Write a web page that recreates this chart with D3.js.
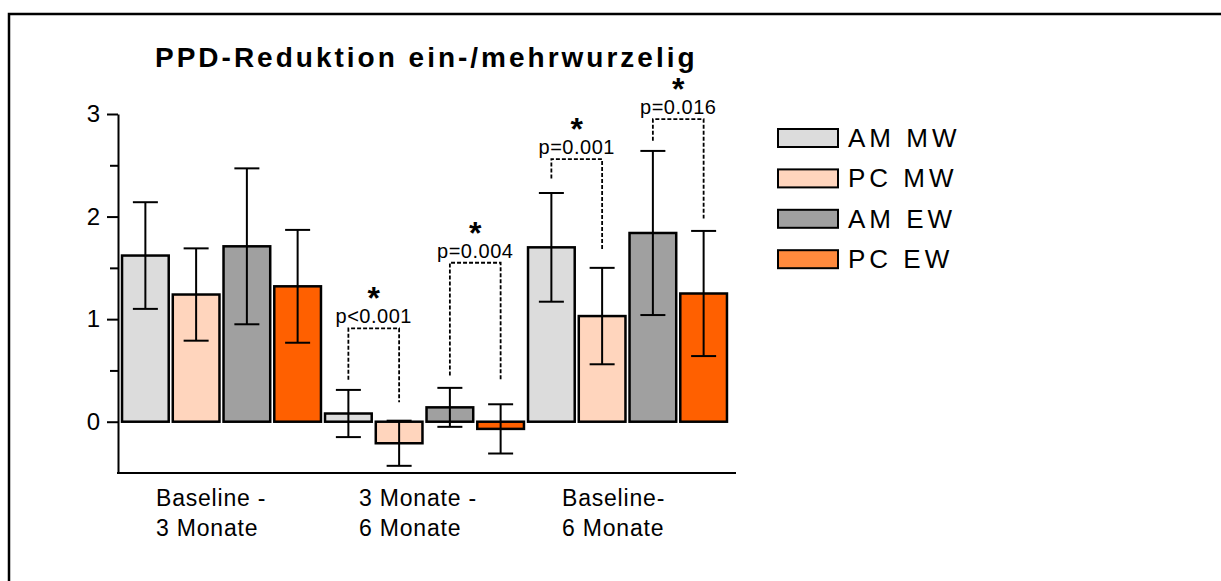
<!DOCTYPE html>
<html>
<head>
<meta charset="utf-8">
<script src="https://cdn.jsdelivr.net/npm/d3@7"></script>
<style>
    html, body { margin: 0; padding: 0; background: #fff; }
    svg { display: block; font-family: "Liberation Sans", Arial, sans-serif; }
</style>
</head>
<body>
<svg id="chart" width="1221" height="581"></svg>
<script>
// data
const groupLines = [["Baseline -", "3 Monate"], ["3 Monate -", "6 Monate"], ["Baseline-", "6 Monate"]];
const seriesNames = ["AM MW", "PC MW", "AM EW", "PC EW"];
const seriesColors = ["#dcdcdc", "#ffd5bd", "#a0a0a0", "#ff6000"];
const legendColors = ["#dcdcdc", "#ffd5bd", "#a0a0a0", "#ff8a3d"];
const means = [
    [1.62, 1.24, 1.71, 1.32],
    [0.08, -0.21, 0.14, -0.07],
    [1.70, 1.03, 1.84, 1.25]
];
const errors = [
    [0.52, 0.45, 0.76, 0.55],
    [0.23, 0.22, 0.19, 0.24],
    [0.53, 0.47, 0.80, 0.61]
];
const majorTicks = [0, 1, 2, 3];
const minorTicks = [0.5, 1.5, 2.5];

// significance brackets
const sigGroup = [1, 1, 2, 2];
const sigPairs = [[0, 1], [2, 3], [0, 1], [2, 3]];
const sigLabels = ["p<0.001", "p=0.004", "p=0.001", "p=0.016"];
const sigTop = [0.91, 1.55, 2.56, 2.95];
const sigLeftEnd = [0.41, 0.45, 2.37, 2.74];
const sigRightEnd = [0.19, 0.40, 1.67, 1.98];

const svg = d3.select("#chart");

// outer frame (runs off the right and bottom edge)
svg.append("rect")
    .attr("x", 9).attr("y", 14)
    .attr("width", 1300).attr("height", 700)
    .attr("fill", "none").attr("stroke", "#000").attr("stroke-width", 2.5);

const y = d3.scaleLinear().domain([-0.5, 3]).range([473, 114]);
const x0 = d3.scaleBand().domain(d3.range(groupLines.length)).range([120, 729]).padding(0);
const x1 = d3.scaleBand().domain(d3.range(seriesNames.length))
    .range([0, x0.bandwidth()]).paddingInner(0.08).paddingOuter(0.04);

// title
svg.append("text")
    .attr("x", 155).attr("y", 67)
    .attr("font-size", 28).attr("font-weight", "bold")
    .attr("letter-spacing", 3)
    .text("PPD-Reduktion ein-/mehrwurzelig");

// y axis
const yAxis = svg.append("g")
    .attr("transform", "translate(118,0)")
    .call(d3.axisLeft(y).tickValues(majorTicks).tickSize(11).tickSizeOuter(0).tickPadding(7).tickFormat(d3.format("d")));
yAxis.select(".domain").attr("stroke-width", 2);
yAxis.selectAll(".tick line").attr("stroke-width", 2);
yAxis.selectAll(".tick text").attr("font-size", 24).attr("font-family", null).attr("fill", "#000");

svg.append("g")
    .attr("transform", "translate(118,0)")
    .call(d3.axisLeft(y).tickValues(minorTicks).tickSize(8).tickFormat(""))
    .call((g) => g.select(".domain").remove())
    .selectAll(".tick line").attr("stroke-width", 2);

// x axis line
svg.append("line")
    .attr("x1", 117).attr("x2", 736)
    .attr("y1", y(-0.5)).attr("y2", y(-0.5))
    .attr("stroke", "#000").attr("stroke-width", 2);

// bars
const groups = svg.append("g").selectAll("g")
    .data(means)
    .join("g")
    .attr("transform", (d, i) => `translate(${x0(i)},0)`);

groups.selectAll("rect")
    .data((d, gi) => d.map((v, si) => ({ v: v, si: si, err: errors[gi][si] })))
    .join("rect")
    .attr("x", (d) => x1(d.si))
    .attr("width", x1.bandwidth())
    .attr("y", (d) => y(Math.max(0, d.v)))
    .attr("height", (d) => Math.abs(y(d.v) - y(0)))
    .attr("fill", (d) => seriesColors[d.si])
    .attr("stroke", "#000")
    .attr("stroke-width", 2.5);

// error bars
const capHalf = 12.5;
const errs = groups.selectAll("g.err")
    .data((d, gi) => d.map((v, si) => ({ v: v, si: si, err: errors[gi][si] })))
    .join("g")
    .attr("class", "err")
    .attr("stroke", "#000")
    .attr("stroke-width", 2);
errs.append("line")
    .attr("x1", (d) => x1(d.si) + x1.bandwidth() / 2)
    .attr("x2", (d) => x1(d.si) + x1.bandwidth() / 2)
    .attr("y1", (d) => y(d.v + d.err))
    .attr("y2", (d) => y(d.v - d.err));
errs.selectAll("line.cap")
    .data((d) => [d.v + d.err, d.v - d.err].map((e) => ({ e: e, si: d.si })))
    .join("line")
    .attr("class", "cap")
    .attr("x1", (d) => x1(d.si) + x1.bandwidth() / 2 - capHalf)
    .attr("x2", (d) => x1(d.si) + x1.bandwidth() / 2 + capHalf)
    .attr("y1", (d) => y(d.e))
    .attr("y2", (d) => y(d.e));

// significance brackets: star and p value share one two-line label
const barCenter = (g, s) => x0(g) + x1(s) + x1.bandwidth() / 2;
sigLabels.forEach((label, i) => {
    const xa = barCenter(sigGroup[i], sigPairs[i][0]);
    const xb = barCenter(sigGroup[i], sigPairs[i][1]);
    const xm = (xa + xb) / 2;
    const yt = y(sigTop[i]);
    svg.append("path")
        .attr("d", `M${xa},${y(sigLeftEnd[i])}V${yt}H${xb}V${y(sigRightEnd[i])}`)
        .attr("fill", "none")
        .attr("stroke", "#000")
        .attr("stroke-width", 1.8)
        .attr("stroke-dasharray", "4,2");
    const t = svg.append("text")
        .attr("x", xm).attr("y", yt - 19)
        .attr("text-anchor", "middle");
    t.append("tspan")
        .attr("x", xm)
        .attr("font-size", 32).attr("font-weight", "bold")
        .text("*");
    t.append("tspan")
        .attr("x", xm).attr("dy", 14)
        .attr("font-size", 20).attr("letter-spacing", 0.5)
        .text(label);
});

// category labels
groupLines.forEach((lines, i) => {
    const t = svg.append("text")
        .attr("x", x0(i) + 36).attr("y", 506)
        .attr("font-size", 23).attr("letter-spacing", 0.8);
    lines.forEach((line, j) => {
        t.append("tspan").attr("x", x0(i) + 36).attr("dy", j === 0 ? 0 : 30).text(line);
    });
});

// legend
const legend = svg.append("g").selectAll("g")
    .data(seriesNames)
    .join("g")
    .attr("transform", (d, i) => `translate(778,${138 + i * 40.4})`);
legend.append("rect")
    .attr("x", 0).attr("y", -9)
    .attr("width", 60).attr("height", 18)
    .attr("fill", (d, i) => legendColors[i])
    .attr("stroke", "#000").attr("stroke-width", 2);
legend.append("text")
    .attr("x", 70).attr("y", 9)
    .attr("font-size", 26).attr("letter-spacing", 4)
    .text((d) => d);
</script>
</body>
</html>
